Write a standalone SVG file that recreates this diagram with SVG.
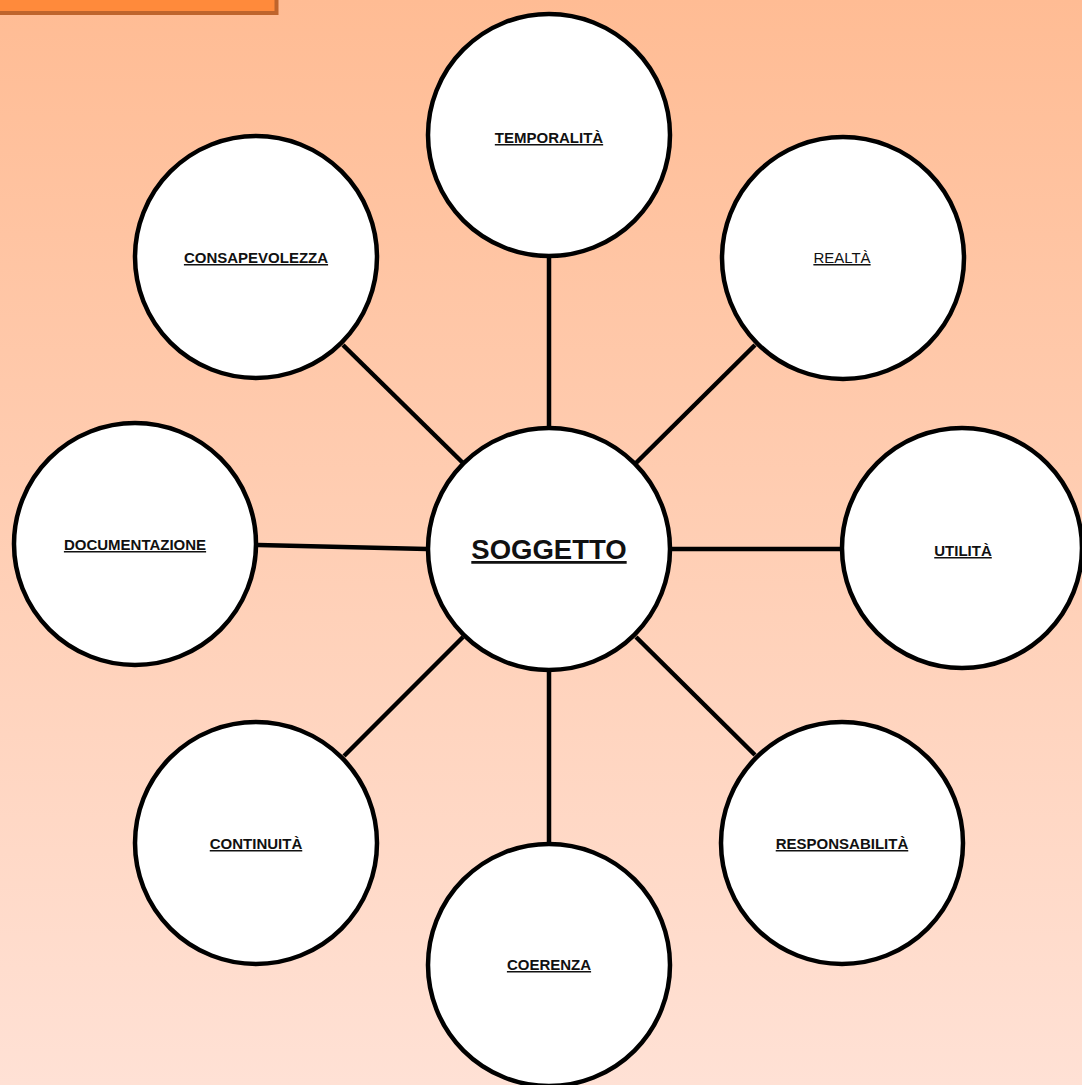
<svg xmlns="http://www.w3.org/2000/svg" width="1082" height="1085" viewBox="0 0 1082 1085">
<defs>
<linearGradient id="bg" x1="0" y1="0" x2="0" y2="1">
<stop offset="0" stop-color="#FFBC94"/>
<stop offset="1" stop-color="#FFE1D5"/>
</linearGradient>
<style>
.node circle{fill:#FFFFFF;stroke:#000000;stroke-width:4.5}
.node text{font-family:"Liberation Sans",Arial,sans-serif;font-size:15px;font-weight:bold;text-anchor:middle;fill:#111111;text-decoration:underline}
.node text.reg{font-weight:normal}
.node text.big{font-size:27.5px}
#connectors line{stroke:#000000;stroke-width:4.5}
</style>
</defs>
<rect x="0" y="0" width="1082" height="1085" fill="url(#bg)"/>
<rect x="-10" y="-10" width="286.5" height="23" fill="#FF8A3B" stroke="#BE642C" stroke-width="4"/>
<g id="connectors">
<line x1="549" y1="258" x2="549" y2="428"/>
<line x1="343" y1="345" x2="463" y2="463"/>
<line x1="755" y1="345" x2="636" y2="463"/>
<line x1="258" y1="545" x2="427" y2="549"/>
<line x1="671" y1="549" x2="841" y2="549"/>
<line x1="344" y1="756" x2="463" y2="637"/>
<line x1="755" y1="755" x2="636" y2="637"/>
<line x1="549" y1="671" x2="549" y2="843"/>
</g>
<g id="soggetto" class="node"><circle cx="549" cy="549" r="121"/><text class="big" x="549" y="559">SOGGETTO</text></g>
<g id="temporalita" class="node"><circle cx="549" cy="135" r="121"/><text x="549" y="143">TEMPORALITÀ</text></g>
<g id="consapevolezza" class="node"><circle cx="256" cy="257" r="121"/><text x="256" y="263">CONSAPEVOLEZZA</text></g>
<g id="realta" class="node"><circle cx="843" cy="258" r="121"/><text class="reg" x="842" y="263">REALTÀ</text></g>
<g id="documentazione" class="node"><circle cx="135" cy="544" r="121"/><text x="135" y="550">DOCUMENTAZIONE</text></g>
<g id="utilita" class="node"><circle cx="962" cy="548" r="120"/><text x="963" y="556">UTILITÀ</text></g>
<g id="continuita" class="node"><circle cx="256" cy="843" r="121"/><text x="256" y="849">CONTINUITÀ</text></g>
<g id="responsabilita" class="node"><circle cx="842" cy="843" r="121"/><text x="842" y="849">RESPONSABILITÀ</text></g>
<g id="coerenza" class="node"><circle cx="549" cy="965" r="121"/><text x="549" y="970">COERENZA</text></g>
</svg>
